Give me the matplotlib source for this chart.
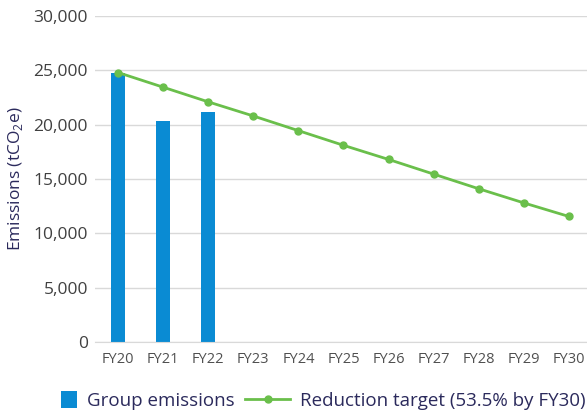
import numpy as np
from matplotlib import pyplot as plt
from matplotlib.ticker import FuncFormatter
from matplotlib.legend_handler import HandlerPatch
import matplotlib.patches as mpatches

years = ["FY20", "FY21", "FY22", "FY23", "FY24", "FY25",
         "FY26", "FY27", "FY28", "FY29", "FY30"]
group_emissions = [24800, 20300, 21200]
target = [24800, 23450, 22100, 20800, 19450, 18100,
          16800, 15450, 14100, 12800, 11550]

plt.rcParams['font.family'] = ['Open Sans', 'DejaVu Sans']
plt.rcParams['mathtext.fontset'] = 'custom'
plt.rcParams['mathtext.rm'] = 'Open Sans'

fig = plt.figure(figsize=(5.87, 4.16), dpi=100)
ax = fig.add_axes([95/587, 1 - 342/416, 1 - 95/587, 326/416])

x = np.arange(len(years))
bars = ax.bar(x[:len(group_emissions)], group_emissions, width=0.31, color="#0a8bd3",
              label="Group emissions", zorder=2)
line, = ax.plot(x, target, color="#6abf4b", lw=2, marker="o", ms=5,
                label="Reduction target (53.5% by FY30)", zorder=3)

ax.set_ylim(0, 30000)
ax.set_xlim(-0.51, 10.4)
ax.set_yticks(np.arange(0, 30001, 5000))
ax.yaxis.set_major_formatter(FuncFormatter(lambda v, p: f"{int(v):,}"))
ax.set_xticks(x)
ax.set_xticklabels(years)
ax.grid(axis="y", color="#d9d9d9", lw=1, zorder=0)
for s in ["top", "right", "left"]:
    ax.spines[s].set_visible(False)
ax.spines["bottom"].set_color("#d9d9d9")
ax.tick_params(axis="y", length=0, labelsize=12.5, labelcolor="#404040", pad=5)
ax.tick_params(axis="x", length=0, labelsize=10.5, labelcolor="#505050", pad=7)
ax.set_ylabel(r"Emissions (tCO$_\mathrm{2}$e)", fontsize=12.5, color="#2b2a5c", labelpad=6)


# square legend swatch for the bars, pushed to the right end of the handle box
def square(legend, orig_handle, xdescent, ydescent, width, height, fontsize):
    s = height * 1.25
    return mpatches.Rectangle((-xdescent + width - s, -ydescent + (height - s) / 2), s, s)


fig.legend([bars.patches[0], line], ["Group emissions", "Reduction target (53.5% by FY30)"],
           loc="center", bbox_to_anchor=(0.526, 1 - 401/416), ncol=2,
           frameon=False, fontsize=13.5, labelcolor="#2b2a5c",
           handlelength=2.4, columnspacing=0.6, handletextpad=0.5,
           handler_map={mpatches.Rectangle: HandlerPatch(patch_func=square)})

plt.savefig("out.png", dpi=100)
